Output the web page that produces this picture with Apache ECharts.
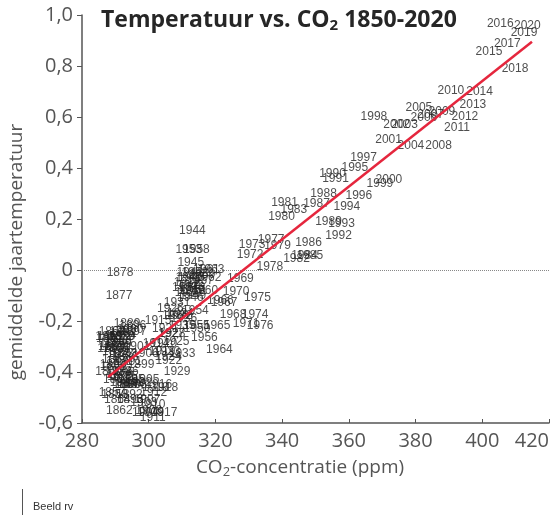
<!DOCTYPE html>
<html>
<head>
<meta charset="utf-8">
<script src="https://cdn.jsdelivr.net/npm/echarts@6/dist/echarts.min.js"></script>
<style>
html,body{margin:0;padding:0;background:#fff;}
#chart{width:559px;height:518px;}
</style>
</head>
<body>
<div id="chart"></div>
<script>
// ---- data ----
const years = [
1850,1851,1852,1853,1854,1855,1856,1857,1858,1859,
1860,1861,1862,1863,1864,1865,1866,1867,1868,1869,
1870,1871,1872,1873,1874,1875,1876,1877,1878,1879,
1880,1881,1882,1883,1884,1885,1886,1887,1888,1889,
1890,1891,1892,1893,1894,1895,1896,1897,1898,1899,
1900,1901,1902,1903,1904,1905,1906,1907,1908,1909,
1910,1911,1912,1913,1914,1915,1916,1917,1918,1919,
1920,1921,1922,1923,1924,1925,1926,1927,1928,1929,
1930,1931,1932,1933,1934,1935,1936,1937,1938,1939,
1940,1941,1942,1943,1944,1945,1946,1947,1948,1949,
1950,1951,1952,1953,1954,1955,1956,1957,1958,1959,
1960,1961,1962,1963,1964,1965,1966,1967,1968,1969,
1970,1971,1972,1973,1974,1975,1976,1977,1978,1979,
1980,1981,1982,1983,1984,1985,1986,1987,1988,1989,
1990,1991,1992,1993,1994,1995,1996,1997,1998,1999,
2000,2001,2002,2003,2004,2005,2006,2007,2008,2009,
2010,2011,2012,2013,2014,2015,2016,2017,2018,2019,
2020];
const co2 = [
288.0,288.5,288.2,288.8,289.2,288.6,289.5,289.0,289.8,290.0,
289.3,290.3,291.2,289.0,290.6,290.2,290.8,290.0,288.0,291.0,
290.6,291.2,290.8,291.5,291.0,291.6,291.3,291.1,291.4,291.8,
292.0,292.2,292.4,292.6,292.3,292.8,293.0,293.2,293.0,293.5,
293.8,294.0,294.2,294.4,294.6,294.8,295.2,295.4,295.5,297.7,
294.4,296.5,297.0,298.5,299.0,299.2,299.0,299.5,300.0,300.5,
301.0,301.2,301.5,302.0,302.2,302.8,303.0,304.6,304.8,304.0,
304.5,305.0,306.0,305.5,305.8,308.2,306.5,306.8,307.0,308.5,
308.0,308.5,309.0,310.0,309.5,310.0,310.5,311.0,311.5,311.8,
312.0,312.3,312.5,312.8,313.1,312.6,312.5,312.8,313.0,313.2,
314.5,313.5,313.8,312.0,314.0,314.3,316.7,315.5,314.3,316.0,
316.8,317.3,317.8,318.7,321.2,320.5,321.5,322.6,325.3,327.5,
326.2,329.2,330.4,331.0,331.9,332.6,333.4,336.7,336.3,338.6,
339.8,340.7,344.3,343.5,346.7,348.3,347.9,350.3,352.4,353.9,
355.1,356.0,356.9,357.8,359.4,361.8,363.0,364.4,367.5,369.3,
372.0,371.9,374.3,376.7,378.6,381.0,382.5,384.5,386.9,387.9,
390.6,392.4,394.8,397.2,399.2,402.0,405.4,407.5,409.8,412.5,
413.5];
const temp = [
-0.40,-0.26,-0.27,-0.30,-0.29,-0.31,-0.38,-0.48,-0.49,-0.32,
-0.37,-0.43,-0.55,-0.24,-0.51,-0.31,-0.28,-0.35,-0.26,-0.29,
-0.30,-0.36,-0.26,-0.33,-0.40,-0.42,-0.41,-0.10,-0.01,-0.26,
-0.26,-0.24,-0.25,-0.33,-0.44,-0.42,-0.40,-0.45,-0.34,-0.21,
-0.45,-0.36,-0.49,-0.51,-0.45,-0.43,-0.22,-0.24,-0.45,-0.37,
-0.235,-0.30,-0.44,-0.52,-0.56,-0.43,-0.33,-0.51,-0.55,-0.56,
-0.53,-0.58,-0.48,-0.46,-0.29,-0.20,-0.45,-0.56,-0.46,-0.32,
-0.29,-0.23,-0.357,-0.32,-0.34,-0.28,-0.15,-0.25,-0.25,-0.40,
-0.18,-0.13,-0.18,-0.33,-0.17,-0.22,-0.19,-0.07,-0.05,-0.09,
-0.03,-0.01,-0.06,-0.03,0.153,0.03,-0.11,-0.08,-0.07,-0.10,
-0.23,-0.08,-0.01,0.08,-0.16,-0.22,-0.267,-0.04,0.08,-0.02,
-0.08,0.00,-0.03,0.00,-0.314,-0.22,-0.12,-0.13,-0.175,-0.035,
-0.086,-0.21,0.06,0.10,-0.176,-0.11,-0.22,0.118,0.014,0.094,
0.21,0.264,0.043,0.235,0.055,0.055,0.106,0.259,0.30,0.19,
0.376,0.357,0.135,0.18,0.247,0.40,0.29,0.44,0.60,0.34,
0.353,0.51,0.57,0.57,0.486,0.635,0.596,0.61,0.486,0.62,
0.703,0.558,0.60,0.65,0.70,0.855,0.965,0.886,0.79,0.93,
0.96];
const trendCo2 = [287.8, 414.9];
const trendTemp = [-0.42, 0.895];
const xTicks = [280, 300, 320, 340, 360, 380, 400, 420];
const yTickLabels = ['-0,6','-0,4','-0,2','0','0,2','0,4','0,6','0,8','1,0'];
const zeroLine = 0;

// ---- build ----
const points = years.map((y, i) => [co2[i], temp[i], y]);
const trend = trendCo2.map((x, i) => [x, trendTemp[i]]);

const chart = echarts.init(document.getElementById('chart'), null, {renderer: 'canvas'});
const axisFont = "'Open Sans', 'Noto Sans', sans-serif";
chart.setOption({
  animation: false,
  backgroundColor: '#ffffff',
  title: {
    text: 'Temperatuur vs. CO{sub|2} 1850-2020',
    left: 96, top: 3,
    textStyle: {
      fontFamily: axisFont, fontSize: 23, fontWeight: 'bold', color: '#262626',
      rich: { sub: { fontFamily: axisFont, fontSize: 15, fontWeight: 'bold', color: '#262626', verticalAlign: 'bottom', padding: [10, 0, 0, 0] } }
    }
  },
  grid: { left: 82, right: 10, top: 15, bottom: 95, containLabel: false, outerBoundsMode: 'none' },
  xAxis: {
    type: 'value', min: xTicks[0], max: xTicks[xTicks.length - 1], interval: 20,
    axisLine: { show: true, onZero: false, lineStyle: { color: '#555', width: 1.5 } },
    axisTick: { show: true, inside: true, length: 4, lineStyle: { color: '#555' } },
    axisLabel: { fontFamily: axisFont, fontSize: 20, color: '#555', margin: 8, alignMaxLabel: 'right' },
    splitLine: { show: false }
  },
  yAxis: {
    type: 'value', min: -0.6, max: 1.0, interval: 0.2,
    axisLine: { show: true, lineStyle: { color: '#555', width: 1.5 } },
    axisTick: { show: true, inside: false, length: 5, lineStyle: { color: '#555' } },
    axisLabel: {
      fontFamily: axisFont, fontSize: 20, color: '#555', margin: 9,
      formatter: v => yTickLabels[Math.round((v + 0.6) / 0.2)]
    },
    splitLine: { show: false }
  },
  graphic: [
    { type: 'text', x: 17, y: 252, rotation: Math.PI / 2, style: { text: 'gemiddelde jaartemperatuur', fontFamily: axisFont, fontSize: 19, fill: '#555', align: 'center', verticalAlign: 'middle' } },
    { type: 'text', x: 300, y: 468, style: { text: 'CO{sub|2}-concentratie (ppm)', fontFamily: axisFont, fontSize: 19, fill: '#555', align: 'center', verticalAlign: 'middle', rich: { sub: { fontFamily: axisFont, fontSize: 13, fill: '#555', padding: [9, 0, 0, 0] } } } },
    { type: 'line', shape: { x1: 22.5, y1: 489, x2: 22.5, y2: 515 }, style: { stroke: '#555', lineWidth: 1 } },
    { type: 'text', x: 33, y: 507, style: { text: 'Beeld rv', fontFamily: "'Liberation Sans', Arial, sans-serif", fontSize: 11, fill: '#333', verticalAlign: 'middle' } }
  ],
  series: [
    {
      type: 'scatter',
      data: points,
      symbol: 'circle', symbolSize: 1,
      itemStyle: { color: 'rgba(0,0,0,0)' },
      label: {
        show: true, position: 'inside',
        formatter: p => String(p.data[2]),
        fontFamily: "'Liberation Sans', Arial, sans-serif", fontSize: 12, color: '#222'
      },
      labelLayout: { hideOverlap: false },
      emphasis: { disabled: true },
      silent: true,
      z: 3,
      markLine: {
        silent: true, symbol: 'none',
        label: { show: false },
        lineStyle: { color: '#888', type: 'dotted', width: 1 },
        data: [{ yAxis: zeroLine }],
        z: 1
      }
    },
    {
      type: 'line',
      data: trend,
      symbol: 'none',
      lineStyle: { color: '#e5263d', width: 2.5 },
      emphasis: { disabled: true },
      silent: true,
      z: 5
    }
  ]
});
</script>
</body>
</html>
